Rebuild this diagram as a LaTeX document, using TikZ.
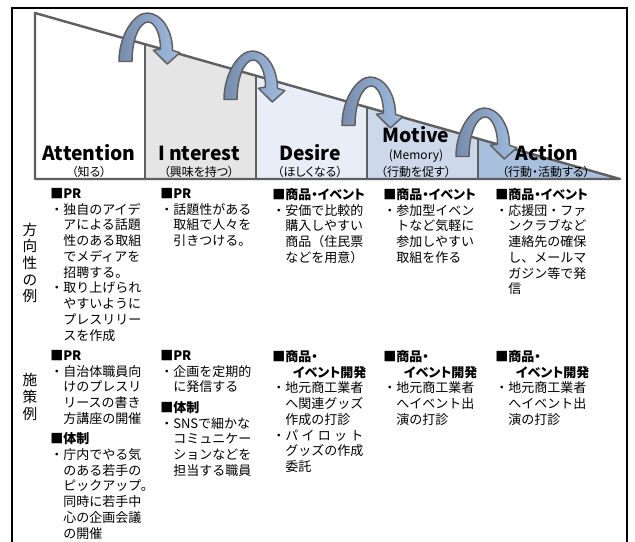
\documentclass[tikz,border=0pt]{standalone}
\usepackage{fontspec}
\setmainfont{Noto Sans CJK JP}
\definecolor{lineg}{RGB}{95,95,95}
\definecolor{cb}{RGB}{229,229,229}
\definecolor{cc}{RGB}{232,237,247}
\definecolor{cd}{RGB}{205,217,235}
\definecolor{ce}{RGB}{168,191,222}
\definecolor{ardark}{RGB}{118,140,172}
\definecolor{arlight}{RGB}{160,188,225}
\newcommand{\ind}{\hspace*{1em}}
\newcommand{\hd}[1]{{\bfseries\addfontfeatures{RawFeature=+palt}#1}}
\newcommand{\bendarrow}[2]{%
  \begin{scope}[shift={(#1,#2)}]
    \path[arrowshape] (-28,48.5) .. controls (-28,21.5) and (-12.5,0) .. (0,0)
      .. controls (14,0) and (25.5,16.6) .. (25.5,37.3) -- (32.8,39.7) -- (20.3,51)
      -- (6.4,37.3) -- (13.5,36) .. controls (13.5,21) and (7.8,9) .. (1.3,9)
      .. controls (-7.8,9) and (-15,26.6) .. (-15,48.5) -- cycle;
  \end{scope}}
\tikzset{
  arrowshape/.style={draw=lineg, line width=1.1pt, left color=ardark, right color=arlight, line join=round},
  wedge/.style={draw=lineg, line width=1.8pt, line join=round},
  hdr/.style={anchor=base, inner sep=0, font=\fontsize{14.5}{16}\selectfont\bfseries},
  sub/.style={anchor=base, inner sep=0, font=\fontsize{9}{10}\selectfont\addfontfeatures{RawFeature=+palt}},
  blk/.style={anchor=north west, inner sep=0, align=left, font=\fontsize{9.75}{11.8}\selectfont},
  vlbl/.style={inner sep=0, align=center, font=\fontsize{11}{12.5}\selectfont}
}
\begin{document}
\begin{tikzpicture}[x=0.75pt,y=-0.75pt]
\useasboundingbox (0,0) rectangle (635,542);
\fill[white] (0,0) rectangle (635,542);
% outer frame
\draw[line width=1.4pt] (12,542) -- (12,8) -- (627,8) -- (627,542);
% wedge fills
\fill[white] (35,13) -- (145,44.2) -- (145,179) -- (35,179) -- cycle;
\fill[cb] (145,44.2) -- (256,75.7) -- (256,179) -- (145,179) -- cycle;
\fill[cc] (256,75.7) -- (367,107.2) -- (367,179) -- (256,179) -- cycle;
\fill[cd] (367,107.2) -- (478,138.7) -- (478,179) -- (367,179) -- cycle;
\fill[ce] (478,138.7) -- (620,179) -- (478,179) -- cycle;
% wedge outline and dividers
\draw[wedge] (35,179) -- (35,13) -- (620,179) -- cycle;
\draw[wedge] (145,44.2) -- (145,179);
\draw[wedge] (256,75.7) -- (256,179);
\draw[wedge] (367,107.2) -- (367,179);
\draw[wedge] (478,138.7) -- (478,179);
% curved arrows
\bendarrow{147}{13}
\bendarrow{252}{51}
\bendarrow{370}{77}
\bendarrow{484}{108}
% headers
\node[hdr] (hA) at (89,160) {Attention};
\node[sub] (sA) at (89,176) {（知る）};
\node[hdr] (hI) at (199,160) {I nterest};
\node[sub] (sI) at (199,176) {（興味を持つ）};
\node[hdr] (hD) at (310,160) {Desire};
\node[sub] (sD) at (310,176) {（ほしくなる）};
\node[hdr] (hM) at (416,142) {Motive};
\node[sub] (sM1) at (416,159) {(Memory)};
\node[sub] (sM2) at (416,176) {（行動を促す）};
\node[hdr] (hAc) at (547,160) {Action};
\node[sub] (sAc) at (546,176) {（行動・活動する）};
% vertical labels
\node[vlbl] (l1) at (30,263) {方\\向\\性\\の\\例};
\node[vlbl] (l2) at (30,397) {施\\策\\例};
% top section
\node[blk] (t1) at (50,188) {\hd{■PR}\\・独自のアイデ\\\ind アによる話題\\\ind 性のある取組\\\ind でメディアを\\\ind 招聘する。\\・取り上げられ\\\ind やすいように\\\ind プレスリリー\\\ind スを作成};
\node[blk] (t2) at (160,188) {\hd{■PR}\\・話題性がある\\\ind 取組で人々を\\\ind 引きつける。};
\node[blk] (t3) at (272,188) {\hd{■商品・イベント}\\・安価で比較的\\\ind 購入しやすい\\\ind 商品（住民票\\\ind などを用意）};
\node[blk] (t4) at (383,188) {\hd{■商品・イベント}\\・参加型イベン\\\ind トなど気軽に\\\ind 参加しやすい\\\ind 取組を作る};
\node[blk] (t5) at (495,188) {\hd{■商品・イベント}\\・応援団・ファ\\\ind ンクラブなど\\\ind 連絡先の確保\\\ind し、メールマ\\\ind ガジン等で発\\\ind 信};
% bottom section
\node[blk] (b1) at (50,350) {\hd{■PR}\\・自治体職員向\\\ind けのプレスリ\\\ind リースの書き\\\ind 方講座の開催\\[3.5pt]\hd{■体制}\\・庁内でやる気\\\ind のある若手の\\\ind ピックアップ。\\\ind 同時に若手中\\\ind 心の企画会議\\\ind の開催};
\node[blk] (b2) at (160,350) {\hd{■PR}\\・企画を定期的\\\ind に発信する\\[3.5pt]\hd{■体制}\\・SNSで細かな\\\ind コミュニケー\\\ind ションなどを\\\ind 担当する職員};
\node[blk] (b3) at (272,350) {\hd{■商品・}\\\hspace*{1.6em}\hd{イベント開発}\\・地元商工業者\\\ind へ関連グッズ\\\ind 作成の打診\\・パ\hspace{0.25em}イ\hspace{0.25em}ロ\hspace{0.25em}ッ\hspace{0.25em}ト\\\ind グッズの作成\\\ind 委託};
\node[blk] (b4) at (383,350) {\hd{■商品・}\\\hspace*{1.6em}\hd{イベント開発}\\・地元商工業者\\\ind へイベント出\\\ind 演の打診};
\node[blk] (b5) at (495,350) {\hd{■商品・}\\\hspace*{1.6em}\hd{イベント開発}\\・地元商工業者\\\ind へイベント出\\\ind 演の打診};
\end{tikzpicture}
\end{document}
